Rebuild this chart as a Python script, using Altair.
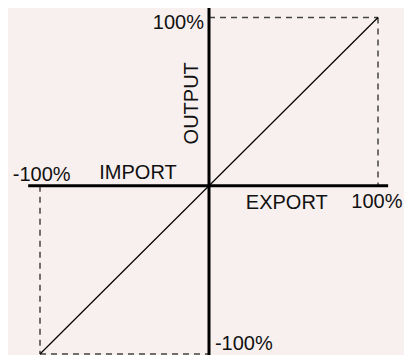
import altair as alt
import pandas as pd

# Diagonal (output = export/import)
diag_x = [-100, 100]
diag_y = [-100, 100]

# Dashed guide segments (x, y, x2, y2)
guide_x = [0, 100, -100, -100]
guide_y = [100, 100, 0, -100]
guide_x2 = [100, 100, -100, 0]
guide_y2 = [100, 0, -100, -100]

# Axis arms
axis_x = [-107, 0]
axis_y = [0, -110]
axis_x2 = [106, 0]
axis_y2 = [0, 106]

# Labels
lab_text = ["100%", "-100%", "100%", "-100%", "IMPORT", "EXPORT"]
lab_x = [-3, -99, 114.5, 3.5, -42, 46]
lab_y = [97, 6.5, -9.5, -94.3, 7.5, -10.5]
lab_align = ["right", "center", "right", "left", "center", "center"]

out_text = ["OUTPUT"]
out_x = [-10]
out_y = [49]

W, H = 396, 347
kx, cx = 1.69, 209.0
ky, cy = 1.6825, 185.75
xs = alt.Scale(domain=[(8 - cx) / kx, (8 + W - cx) / kx], nice=False, zero=False)
ys = alt.Scale(domain=[(cy - 8 - H) / ky, (cy - 8) / ky], nice=False, zero=False)

guides = pd.DataFrame({"x": guide_x, "y": guide_y, "x2": guide_x2, "y2": guide_y2})
axes = pd.DataFrame({"x": axis_x, "y": axis_y, "x2": axis_x2, "y2": axis_y2})
diag = pd.DataFrame({"x": diag_x, "y": diag_y})
labs = pd.DataFrame({"t": lab_text, "x": lab_x, "y": lab_y, "a": lab_align})
outl = pd.DataFrame({"t": out_text, "x": out_x, "y": out_y})

X = alt.X("x:Q", scale=xs, axis=None)
Y = alt.Y("y:Q", scale=ys, axis=None)

guide_layer = alt.Chart(guides).mark_rule(color="#444444", strokeWidth=1.5, strokeDash=[6, 5]).encode(
    x=X, y=Y, x2="x2", y2="y2")

axis_layer = alt.Chart(axes).mark_rule(color="#000000", strokeWidth=3).encode(
    x=X, y=Y, x2="x2", y2="y2")

diag_layer = alt.Chart(diag).mark_line(color="#000000", strokeWidth=1.2).encode(x=X, y=Y)

text_layers = []
for al in ["left", "center", "right"]:
    sub = labs[labs["a"] == al]
    text_layers.append(alt.Chart(sub).mark_text(
        font="Liberation Sans", fontSize=20, color="#111111", align=al, baseline="middle").encode(
        x=X, y=Y, text="t:N"))

out_layer = alt.Chart(outl).mark_text(
    font="Liberation Sans", fontSize=20, color="#111111", angle=270, align="center", baseline="middle").encode(
    x=X, y=Y, text="t:N")

chart = alt.layer(guide_layer, diag_layer, axis_layer, *text_layers, out_layer).properties(
    width=W, height=H, autosize=alt.AutoSizeParams(type="none"), padding=0,
    background="#f8f0ef",
).configure_view(stroke=None)

chart.save("out.html", embed_options={"renderer": "svg", "actions": False})
